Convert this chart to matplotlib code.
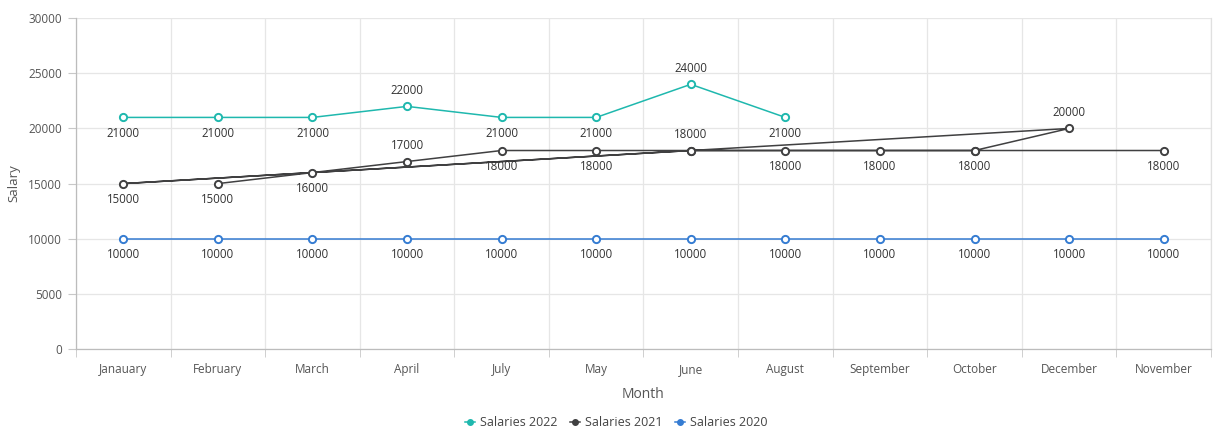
"""Monthly salaries line chart, three years on one category axis."""

import matplotlib.pyplot as plt
from matplotlib.lines import Line2D

CATEGORIES = ['Janauary', 'February', 'March', 'April', 'July', 'May',
              'June', 'August', 'September', 'October', 'December', 'November']

MONTHS_2022 = ['Janauary', 'February', 'March', 'April', 'July', 'May',
               'June', 'August']
SALARIES_2022 = [21000, 21000, 21000, 22000, 21000, 21000, 24000, 21000]

# 2021 comes back in a scrambled order, so the line doubles back on itself
MONTHS_2021 = ['February', 'March', 'April', 'July', 'May', 'June', 'August',
               'September', 'October', 'December', 'Janauary', 'June',
               'October', 'November']
SALARIES_2021 = [15000, 16000, 17000, 18000, 18000, 18000, 18000, 18000,
                 18000, 20000, 15000, 18000, 18000, 18000]

MONTHS_2020 = CATEGORIES
SALARIES_2020 = [10000] * 12

SERIES = [
    ('Salaries 2022', MONTHS_2022, SALARIES_2022, '#1fb8ae'),
    ('Salaries 2021', MONTHS_2021, SALARIES_2021, '#404041'),
    ('Salaries 2020', MONTHS_2020, SALARIES_2020, '#357cd2'),
]
LABEL_ABOVE = {
    ('Salaries 2022', 'April'), ('Salaries 2022', 'June'),
    ('Salaries 2021', 'April'), ('Salaries 2021', 'June'),
    ('Salaries 2021', 'December'),
}


def main():
    plt.rcParams['font.family'] = ['Open Sans', 'DejaVu Sans']
    fig = plt.figure(figsize=(12.2, 4.32), dpi=100)
    ax = fig.add_axes([0.0623, 0.192, 0.9303, 0.766])

    index = {name: i for i, name in enumerate(CATEGORIES)}
    handles = []
    for name, months, values, color in SERIES:
        xs = [index[m] for m in months]
        ax.plot(xs, values, '-', color=color, linewidth=1.1, zorder=3)
        ax.plot(xs, values, 'o', color=color, markerfacecolor='white',
                markeredgewidth=1.4, markersize=5.2, zorder=4)
        seen = set()
        for x, month, value in zip(xs, months, values):
            if month in seen:
                continue
            seen.add(month)
            dy = 11.5 if (name, month) in LABEL_ABOVE else -11.5
            ax.annotate(str(value), xy=(x, value), xytext=(0, dy),
                        textcoords='offset points', ha='center', va='center',
                        fontsize=8.3, color='#333333', zorder=5)
        handles.append(Line2D([], [], color=color, linewidth=1.1, marker='o',
                              markersize=4, markerfacecolor=color,
                              label=name))

    ax.set_xlim(-0.5, len(CATEGORIES) - 0.5)
    ax.set_ylim(0, 30000)
    ax.set_yticks(range(0, 30001, 5000))
    ax.set_xticks(range(len(CATEGORIES)))
    ax.set_xticklabels(CATEGORIES)
    ax.set_xticks([i - 0.5 for i in range(len(CATEGORIES) + 1)], minor=True)
    ax.tick_params(axis='x', which='major', length=0, pad=10,
                   labelsize=8.5, labelcolor='#555555')
    ax.tick_params(axis='x', which='minor', length=6, color='#c8c8c8')
    ax.tick_params(axis='y', length=6, color='#c8c8c8', pad=4,
                   labelsize=8.5, labelcolor='#555555')
    ax.grid(True, axis='y', color='#e6e6e6', linewidth=0.9)
    ax.grid(True, axis='x', which='minor', color='#e6e6e6', linewidth=0.9)
    ax.set_axisbelow(True)
    ax.spines['top'].set_visible(False)
    ax.spines['right'].set_color('#e0e0e0')
    ax.spines['right'].set_linewidth(0.9)
    for side in ('left', 'bottom'):
        ax.spines[side].set_color('#bcbcbc')
        ax.spines[side].set_linewidth(0.9)

    ax.set_xlabel('Month', fontsize=10, color='#555555', labelpad=8)
    ax.set_ylabel('Salary', fontsize=9.5, color='#555555', labelpad=6)

    fig.legend(handles=handles, loc='lower center', ncol=3, frameon=False,
               bbox_to_anchor=(0.505, -0.02), fontsize=9, handlelength=0.8,
               handletextpad=0.4, columnspacing=1.0, labelcolor='#444444')

    plt.savefig('out.png', dpi=100)


if __name__ == '__main__':
    main()
